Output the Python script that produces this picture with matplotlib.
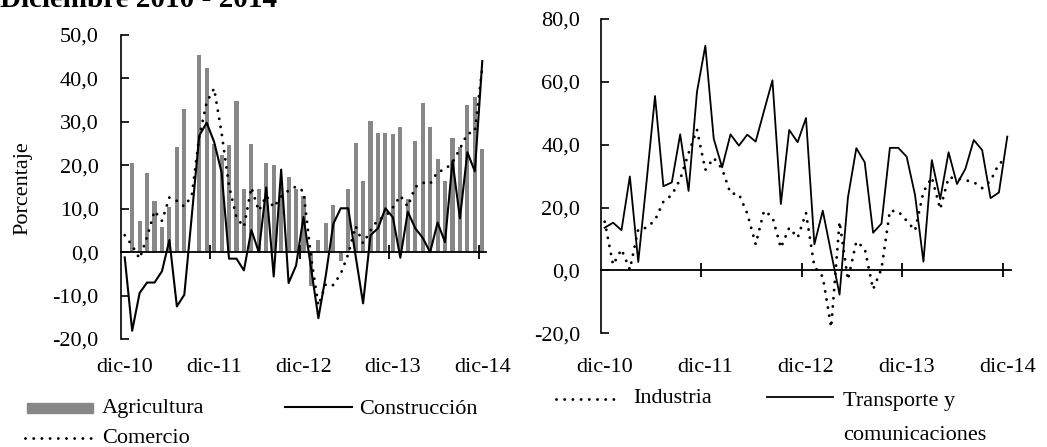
import numpy as np
import matplotlib
matplotlib.use('Agg')
import matplotlib.pyplot as plt
from matplotlib.lines import Line2D
from matplotlib.patches import Rectangle
from matplotlib.ticker import FuncFormatter
import matplotlib.transforms as mtransforms

# ---------------- data ----------------
title = 'Diciembre 2010 - 2014'
x_labels = ['dic-10', 'dic-11', 'dic-12', 'dic-13', 'dic-14']
y_label = 'Porcentaje'

agricultura = [0.0, 20.6, 7.1, 18.3, 11.8, 5.7, 10.3, 24.2, 33.0, 0.0,
               45.5, 42.3, 25.0, 22.3, 24.6, 34.8, 14.5, 24.8, 14.5, 20.5,
               20.0, 15.0, 17.3, 14.5, 13.0, -7.7, 2.9, 6.7, 10.8, -2.1,
               14.5, 25.2, 16.4, 30.2, 27.5, 27.5, 27.1, 28.9, 12.2, 25.6,
               34.4, 28.9, 21.5, 16.4, 26.2, 24.2, 33.9, 35.8, 23.8]
construccion = [-1.2, -18.1, -9.4, -7.0, -7.0, -4.4, 2.8, -12.5, -9.8, 8.3,
                26.8, 29.8, 25.4, 18.4, -1.5, -1.5, -4.2, 5.1, 0.0, 14.9,
                -5.6, 19.0, -7.1, -3.1, 8.1, -3.5, -15.2, -5.3, 6.5, 10.1,
                10.1, -0.9, -11.8, 3.9, 5.5, 10.1, 8.0, -1.3, 9.3, 5.5,
                3.3, 0.0, 6.8, 2.3, 21.0, 7.8, 23.0, 18.6, 44.0]
comercio = [3.9, 1.5, -1.5, 3.5, 9.5, 7.2, 12.6, 11.8, 10.5, 13.0,
            26.5, 34.5, 37.7, 27.5, 15.3, 8.0, 5.8, 14.9, 9.5, 13.0,
            10.3, 12.8, 14.2, 15.1, 14.0, -1.0, -12.3, -7.3, -7.6, -5.0,
            -0.5, 6.0, 2.0, 5.0, 7.5, 8.2, 10.3, 13.0, 10.5, 15.0,
            16.0, 15.7, 18.5, 19.0, 20.7, 23.8, 27.3, 27.7, 42.5]
industria = [15.5, 1.8, 6.7, 0.3, 13.1, 13.6, 16.0, 21.9, 24.0, 29.0,
             37.3, 44.8, 32.0, 35.8, 32.3, 24.5, 24.3, 18.1, 8.3, 19.0,
             17.0, 7.2, 13.6, 10.4, 18.3, 1.2, -2.0, -18.1, 15.5, -3.0,
             9.2, 7.0, -6.0, 0.5, 19.0, 18.8, 15.8, 12.7, 25.0, 29.6,
             19.5, 29.6, 29.3, 28.7, 28.1, 26.2, 28.5, 34.0, 35.5]
transporte = [13.6, 15.2, 12.8, 29.9, 2.7, 28.5, 55.5, 26.8, 28.0, 43.3,
              25.3, 56.8, 71.5, 41.9, 32.8, 43.3, 39.7, 43.2, 41.0, 50.8,
              60.5, 21.1, 44.7, 40.8, 48.5, 8.3, 19.0, 5.6, -7.7, 23.2,
              38.9, 34.4, 12.0, 14.9, 39.0, 39.0, 36.2, 24.0, 2.8, 35.1,
              22.7, 37.6, 27.5, 32.3, 41.5, 38.3, 23.0, 24.8, 42.6]

# ---------------- style ----------------
plt.rcParams['font.family'] = ['Liberation Serif', 'DejaVu Serif']
FS = 16
BAR_COLOR = '#878787'
DOT = dict(color='black', lw=2.1, linestyle=(0, (0.01, 2.8)), dash_capstyle='round')

W, H = 1047, 447
fig = plt.figure(figsize=(W / 100, H / 100), dpi=100)


def fx(px):
    return px / W


def fy(py):
    return 1 - py / H


def px_rect(x0, x1, ytop, ybot):
    return [x0 / W, 1 - ybot / H, (x1 - x0) / W, (ybot - ytop) / H]


n = len(agricultura)
x = np.arange(n)
fmt = FuncFormatter(lambda v, p: f'{v:.1f}'.replace('.', ','))


def style(ax, ylim, yticks, pad):
    ax.set_xlim(-0.5, n - 0.5)
    ax.set_ylim(*ylim)
    for s in ['top', 'right']:
        ax.spines[s].set_visible(False)
    ax.spines['bottom'].set_position(('data', 0))
    ax.spines['left'].set_linewidth(1.2)
    ax.spines['bottom'].set_linewidth(1.3)
    ax.set_xticks(np.arange(11.5, n, 12))
    ax.tick_params(axis='x', direction='inout', length=9.5, width=1.3,
                   labelbottom=False)
    ax.set_yticks(yticks)
    ax.yaxis.set_major_formatter(fmt)
    ax.tick_params(axis='y', direction='in', length=5.5, width=1.2,
                   labelsize=FS, pad=pad)
    trans = mtransforms.blended_transform_factory(ax.transData, fig.transFigure)
    for i, lab in zip(range(0, n, 12), x_labels):
        ax.text(i, fy(372), lab, transform=trans, ha='center',
                va='baseline', fontsize=FS)


# ---------------- left panel ----------------
ax1 = fig.add_axes(px_rect(121, 486, 35, 339))
ax1.bar(x, agricultura, width=0.55, color=BAR_COLOR, zorder=2)
ax1.plot(x, construccion, color='black', lw=1.5, zorder=3)
ax1.plot(x, comercio, zorder=4, **DOT)
style(ax1, (-20, 50), np.arange(-20, 51, 10), 16)

# ---------------- right panel ----------------
ax2 = fig.add_axes(px_rect(600.5, 1011.5, 19, 333.3))
ax2.plot(x, industria, zorder=4, **DOT)
ax2.plot(x, transporte, color='black', lw=1.3, zorder=3)
style(ax2, (-20, 80), np.arange(-20, 81, 20), 14.5)

# ---------------- texts ----------------
fig.text(0.0, fy(7), title, fontsize=21, fontweight='bold',
         ha='left', va='baseline')
fig.text(fx(23), fy(188), y_label, rotation=90, ha='center', va='center',
         fontsize=FS)

# ---------------- legends ----------------
fig.add_artist(Rectangle((fx(26.7), fy(413)), (93 - 26.7) / W, 10 / H,
                         transform=fig.transFigure, color=BAR_COLOR))
fig.text(fx(101.7), fy(413.5), 'Agricultura', fontsize=FS, va='baseline')
fig.add_artist(Line2D([fx(285), fx(351.7)], [fy(407)] * 2,
                      transform=fig.transFigure, color='black', lw=1.5))
fig.text(fx(359), fy(413.5), 'Construcción', fontsize=FS, va='baseline')
fig.add_artist(Line2D([fx(25), fx(95)], [fy(437.5)] * 2,
                      transform=fig.transFigure, **DOT))
fig.text(fx(101.7), fy(443), 'Comercio', fontsize=FS, va='baseline')

fig.add_artist(Line2D([fx(556), fx(620)], [fy(398.5)] * 2,
                      transform=fig.transFigure, **DOT))
fig.text(fx(633), fy(403), 'Industria', fontsize=FS, va='baseline')
fig.add_artist(Line2D([fx(766.7), fx(833)], [fy(396.7)] * 2,
                      transform=fig.transFigure, color='black', lw=1.3))
fig.text(fx(843.3), fy(439.5), 'Transporte y\ncomunicaciones', fontsize=FS,
         va='baseline', linespacing=2.05)

fig.savefig('out.png', dpi=100)
